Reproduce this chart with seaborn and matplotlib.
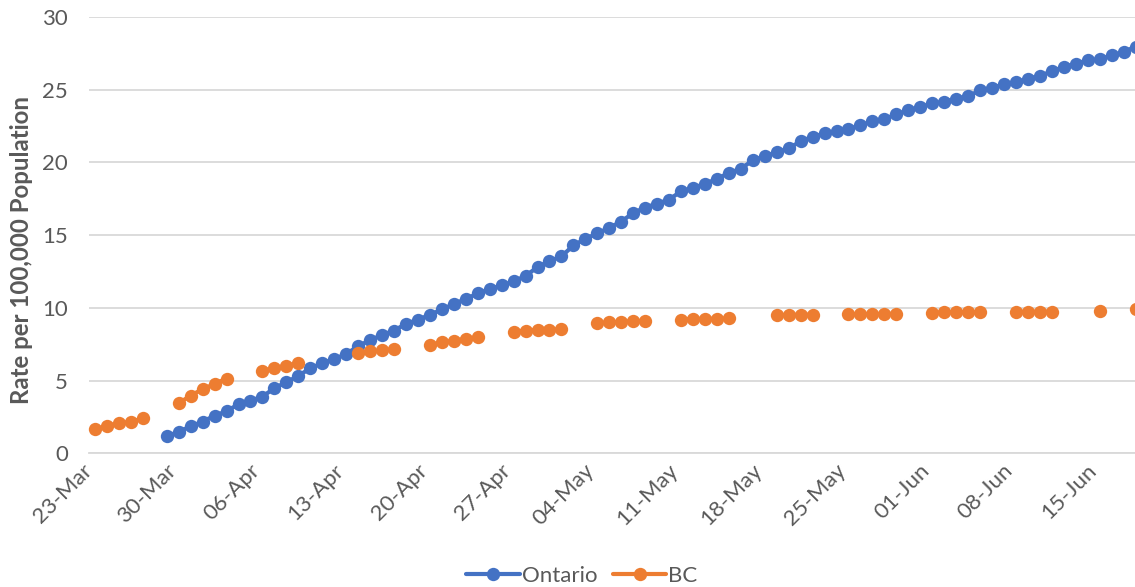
import numpy as np
import pandas as pd
import matplotlib
matplotlib.use("Agg")
import matplotlib.pyplot as plt
import matplotlib.dates as mdates
import matplotlib.transforms as mtransforms
from matplotlib.lines import Line2D
import seaborn as sns

# ---------------- data ----------------
ontario_start = "2020-03-29"
ontario_values = [
    1.16, 1.49, 1.85, 2.18, 2.59, 2.89, 3.38, 3.62, 3.90, 4.48,
    4.89, 5.32, 5.85, 6.20, 6.48, 6.83, 7.36, 7.79, 8.13, 8.44,
    8.90, 9.19, 9.52, 9.89, 10.27, 10.61, 10.99, 11.29, 11.54, 11.82,
    12.20, 12.80, 13.22, 13.54, 14.29, 14.75, 15.12, 15.52, 15.93, 16.53,
    16.90, 17.17, 17.44, 18.02, 18.25, 18.53, 18.87, 19.28, 19.56, 20.15,
    20.43, 20.70, 20.96, 21.46, 21.76, 21.99, 22.15, 22.31, 22.54, 22.84,
    23.00, 23.30, 23.60, 23.80, 24.06, 24.18, 24.38, 24.56, 24.95, 25.14,
    25.36, 25.52, 25.76, 25.94, 26.28, 26.56, 26.79, 27.02, 27.09, 27.36,
    27.59, 27.96,
]

bc_dates = [
    "2020-03-23", "2020-03-24", "2020-03-25", "2020-03-26", "2020-03-27",
    "2020-03-30", "2020-03-31", "2020-04-01", "2020-04-02", "2020-04-03",
    "2020-04-06", "2020-04-07", "2020-04-08", "2020-04-09",
    "2020-04-14", "2020-04-15", "2020-04-16", "2020-04-17",
    "2020-04-20", "2020-04-21", "2020-04-22", "2020-04-23", "2020-04-24",
    "2020-04-27", "2020-04-28", "2020-04-29", "2020-04-30", "2020-05-01",
    "2020-05-04", "2020-05-05", "2020-05-06", "2020-05-07", "2020-05-08",
    "2020-05-11", "2020-05-12", "2020-05-13", "2020-05-14", "2020-05-15",
    "2020-05-19", "2020-05-20", "2020-05-21", "2020-05-22",
    "2020-05-25", "2020-05-26", "2020-05-27", "2020-05-28", "2020-05-29",
    "2020-06-01", "2020-06-02", "2020-06-03", "2020-06-04", "2020-06-05",
    "2020-06-08", "2020-06-09", "2020-06-10", "2020-06-11",
    "2020-06-15",
    "2020-06-18",
]
bc_values = [
    1.65, 1.88, 2.07, 2.16, 2.41,
    3.44, 3.97, 4.41, 4.77, 5.14,
    5.69, 5.85, 6.03, 6.20,
    6.89, 7.00, 7.07, 7.18,
    7.46, 7.62, 7.75, 7.87, 7.99,
    8.37, 8.44, 8.49, 8.49, 8.54,
    8.95, 9.00, 9.05, 9.08, 9.12,
    9.20, 9.25, 9.25, 9.26, 9.27,
    9.50, 9.52, 9.53, 9.54,
    9.56, 9.57, 9.58, 9.58, 9.60,
    9.66, 9.70, 9.71, 9.71, 9.69,
    9.73, 9.74, 9.74, 9.75,
    9.80,
    9.95,
]

axis_start = "2020-03-23"
tick_dates = pd.date_range("2020-03-23", "2020-06-15", freq="7D")
y_ticks = [0, 5, 10, 15, 20, 25, 30]
series_names = ["Ontario", "BC"]
colors = {"Ontario": "#4472C4", "BC": "#ED7D31"}

# ---------------- frames ----------------
on_df = pd.DataFrame({
    "date": pd.date_range(ontario_start, periods=len(ontario_values), freq="D"),
    "rate": ontario_values,
})
on_df["x"] = mdates.date2num(on_df["date"]) + 0.5

bc_df = pd.DataFrame({"date": pd.to_datetime(bc_dates), "rate": bc_values})
bc_df["x"] = mdates.date2num(bc_df["date"]) + 0.5
bc_df["run"] = (bc_df["date"].diff().dt.days.fillna(1) != 1).cumsum()

# ---------------- style ----------------
sns.set_theme(style="white")
plt.rcParams["font.family"] = ["Lato", "DejaVu Sans"]
text_color = "#595959"
grid_color = "#D9D9D9"
fs = 16

W, H = 1135, 587
fig = plt.figure(figsize=(W / 100, H / 100), dpi=100)
x0 = mdates.date2num(pd.Timestamp(axis_start))
px_per_day = 11.96
left_px, right_px, top_px, bottom_px = 89, 89 + 88 * px_per_day, 17, 453.3
ax = fig.add_axes([left_px / W, 1 - bottom_px / H,
                   (right_px - left_px) / W, (bottom_px - top_px) / H])

lw = 3.0
ms = 9.6
sns.lineplot(data=on_df, x="x", y="rate", ax=ax, color=colors["Ontario"],
             linewidth=lw, marker="o", markersize=ms, markeredgewidth=0,
             legend=False, clip_on=False, zorder=3)
sns.lineplot(data=bc_df, x="x", y="rate", units="run", estimator=None, ax=ax,
             color=colors["BC"], linewidth=lw, marker="o", markersize=ms,
             markeredgewidth=0, legend=False, clip_on=False, zorder=4)

ax.set_xlim(x0, x0 + 88)
ax.set_ylim(0, 30)
ax.set_yticks(y_ticks)
ax.set_yticklabels([str(v) for v in y_ticks])
ax.set_xticks(mdates.date2num(tick_dates))
ax.set_xticklabels([d.strftime("%d-%b") for d in tick_dates],
                   rotation=45, ha="right", va="center", rotation_mode="anchor")
offset = mtransforms.ScaledTranslation(13 / 100, -6 / 100, fig.dpi_scale_trans)
for lab in ax.get_xticklabels():
    lab.set_transform(lab.get_transform() + offset)

ax.grid(axis="y", color=grid_color, linewidth=1.3)
ax.grid(axis="x", visible=False)
ax.set_axisbelow(True)
for s in ["top", "right", "left"]:
    ax.spines[s].set_visible(False)
ax.spines["bottom"].set_color(grid_color)
ax.spines["bottom"].set_linewidth(1.3)
ax.spines["bottom"].set_zorder(1)

ax.tick_params(axis="x", length=6, width=1.3, color=grid_color, direction="out",
               labelcolor=text_color, labelsize=fs, pad=4)
ax.tick_params(axis="y", length=0, labelcolor=text_color, labelsize=fs, pad=15)
ax.set_xlabel("")
ax.set_ylabel("")

fig.text(22 / W, 1 - 250 / H, "Rate per 100,000 Population", rotation=90,
         ha="center", va="center", fontsize=17.3, fontweight="bold", color=text_color)

handles = [Line2D([0], [0], color=colors[n], linewidth=lw, marker="o",
                  markersize=ms, markeredgewidth=0) for n in series_names]
fig.legend(handles, series_names, loc="center", bbox_to_anchor=(582 / W, 1 - 576 / H),
           ncol=2, frameon=False, fontsize=fs, labelcolor=text_color,
           handlelength=2.4, handletextpad=0.1, columnspacing=0.7)

fig.savefig("out.png", dpi=100)
